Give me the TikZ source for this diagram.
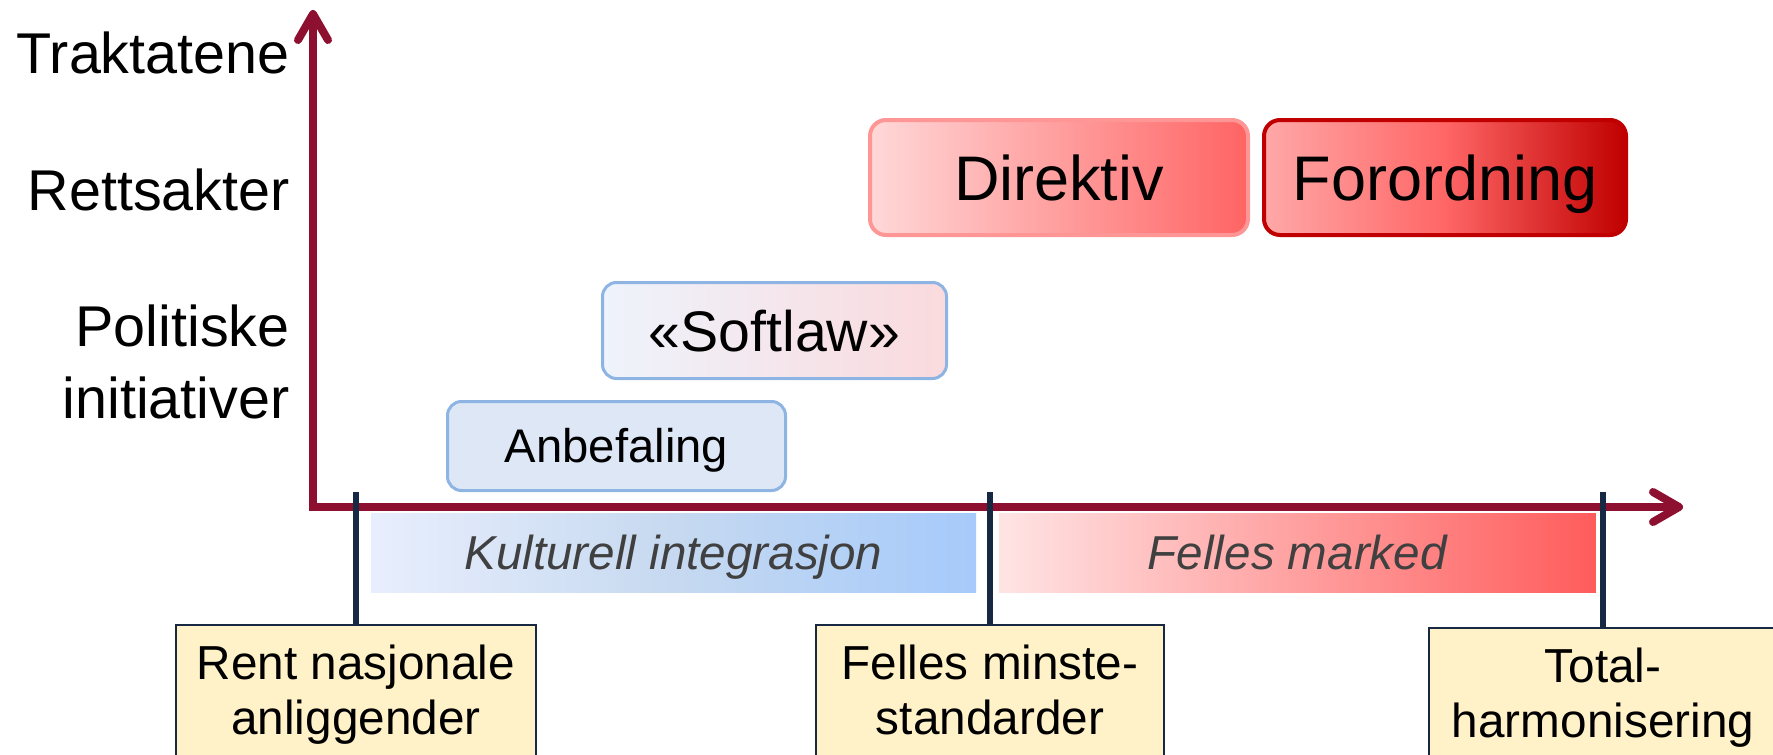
\documentclass[tikz,border=0pt]{standalone}
\usepackage{fontspec}
\setmainfont{Liberation Sans}
\usetikzlibrary{positioning,arrows.meta}

\definecolor{axisred}{RGB}{142,16,48}
\definecolor{ticknavy}{RGB}{23,40,66}
\definecolor{boxyellow}{RGB}{255,242,200}
\definecolor{softblue}{RGB}{141,180,226}
\definecolor{anbfill}{RGB}{222,231,245}
\definecolor{softleft}{RGB}{238,243,252}
\definecolor{softright}{RGB}{250,218,221}
\definecolor{dirleft}{RGB}{255,216,216}
\definecolor{dirright}{RGB}{255,100,100}
\definecolor{dirline}{RGB}{255,150,150}
\definecolor{forleft}{RGB}{255,168,168}
\definecolor{formid}{RGB}{255,102,102}
\definecolor{forright}{RGB}{192,0,0}
\definecolor{kulleft}{RGB}{232,238,253}
\definecolor{kulmid}{RGB}{198,217,240}
\definecolor{kulright}{RGB}{166,202,251}
\definecolor{felleft}{RGB}{255,228,228}
\definecolor{felright}{RGB}{255,92,92}
\definecolor{bandtext}{RGB}{64,64,64}

\tikzset{
  axis/.style={draw=axisred, line width=4pt,
    {Straight Barb[length=13pt,width=15pt,round]}-{Straight Barb[length=13pt,width=15pt,round]}},
  tick/.style={draw=ticknavy, line width=3pt},
  ylab/.style={anchor=base east, inner sep=0, font=\fontsize{28.75pt}{36pt}\selectfont},
  redbox/.style={rounded corners=8pt, line width=2pt, inner sep=0, minimum height=57.5pt,
    text height=22.6pt, text depth=0pt, font=\fontsize{31.5pt}{38pt}\selectfont},
  softbox/.style={rounded corners=7pt, draw=softblue, line width=1.5pt, inner sep=0, text depth=0pt},
  band/.style={inner sep=0, minimum height=39.5pt, text=bandtext, text height=17pt, text depth=0pt,
    font=\fontsize{23.8pt}{28pt}\selectfont\itshape},
  stage/.style={draw=ticknavy, line width=0.9pt, fill=boxyellow, anchor=north, minimum width=174pt,
    align=center, inner xsep=4pt, inner ysep=10pt, font=\fontsize{23.85pt}{27.5pt}\selectfont,
    execute at begin node=\rule{0pt}{19pt}, execute at end node=\rule[-5.5pt]{0pt}{5.5pt}}
}

\begin{document}
\begin{tikzpicture}[x=0.5pt,y=-0.5pt]
    \clip (0,0) rectangle (1773,755);

    % axes
    \coordinate (O)    at (313,507);
    \coordinate (ytip) at (313,10);
    \coordinate (xtip) at (1683,507);
    \draw[axis] (ytip) -- (O) -- (xtip);

    % levels on the vertical axis
    \node[ylab] (traktatene) at (290,73)  {Traktatene};
    \node[ylab] (rettsakter) at (290,210) {Rettsakter};
    \node[ylab, anchor=north east, align=right] (politiske) at (290,304) {Politiske\\initiativer};

    % instruments
    \node[redbox, draw=dirline, left color=dirleft, right color=dirright, minimum width=189pt]
          (direktiv) at (1059,177.5) {Direktiv};
    \node[redbox, draw=forright, left color=forleft, right color=forright, middle color=formid,
          minimum width=181pt] (forordning) [right=6pt of direktiv] {Forordning};
    \node[softbox, left color=softleft, right color=softright, minimum width=172pt, minimum height=48pt,
          text height=20.5pt, font=\fontsize{28.6pt}{34pt}\selectfont]
          (softlaw) at (774.5,330.5) {«Softlaw»};
    \node[softbox, fill=anbfill, minimum width=169pt, minimum height=44.5pt,
          text height=16.9pt, font=\fontsize{23.6pt}{28pt}\selectfont]
          (anbefaling) at (616.5,446) {Anbefaling};

    % bands under the axis
    \node[band, left color=kulleft, right color=kulright, middle color=kulmid, minimum width=302.5pt]
          (kulturell) at (673.5,552.5) {Kulturell integrasjon};
    \node[band, left color=felleft, right color=felright, minimum width=298.5pt]
          (marked) [right=11pt of kulturell] {Felles marked};

    % stages
    \node[stage, minimum width=180pt] (rent) at (356,624) {Rent nasjonale\\anliggender};
    \node[stage] (minste) at (990,624)  {Felles minste-\\standarder};
    \node[stage] (total)  at (1603,627) {Total-\\harmonisering};

    \coordinate (t1) at (356,492);
    \coordinate (t2) at (990,492);
    \coordinate (t3) at (1603,492);
    \draw[tick] (t1) -- (rent.north);
    \draw[tick] (t2) -- (minste.north);
    \draw[tick] (t3) -- (total.north);
\end{tikzpicture}
\end{document}
